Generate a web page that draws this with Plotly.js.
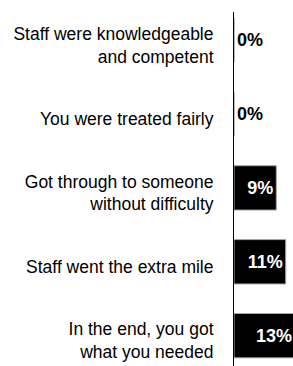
<!DOCTYPE html>
<html>
<head>
<meta charset="utf-8">
<script src="https://cdn.plot.ly/plotly-3.0.1.min.js"></script>
<style>
html,body{margin:0;padding:0;background:#fff;}
#chart{width:293px;height:366px;}
</style>
</head>
<body>
<div id="chart"></div>
<script>
var categories = [
  "Staff were knowledgeable<br>and competent",
  "You were treated fairly",
  "Got through to someone<br>without difficulty",
  "Staff went the extra mile",
  "In the end, you got<br>what you needed"
];
var values = [0, 0, 9, 11, 13];
var valueLabels = values.map(function(v){ return v + "%"; });

var trace = {
  type: "bar",
  orientation: "h",
  x: values,
  y: categories,
  text: valueLabels,
  textposition: values.map(function(v){ return v > 0 ? "inside" : "outside"; }),
  insidetextanchor: "end",
  constraintext: "none",
  cliponaxis: true,
  textfont: {family: "Liberation Sans, Arial, sans-serif", size: 18, weight: "bold"},
  insidetextfont: {family: "Liberation Sans, Arial, sans-serif", size: 18, weight: "bold", color: "#ffffff"},
  outsidetextfont: {family: "Liberation Sans, Arial, sans-serif", size: 18, weight: "bold", color: "#000000"},
  marker: {color: "#000000", line: {color: "#a6a6a6", width: 1}},
  width: 0.6,
  hoverinfo: "none"
};

var layout = {
  width: 293,
  height: 366,
  margin: {l: 234, r: 0, t: 12, b: 0, pad: 0},
  paper_bgcolor: "#ffffff",
  plot_bgcolor: "#ffffff",
  showlegend: false,
  font: {family: "Liberation Sans, Arial, sans-serif", color: "#000000"},
  xaxis: {
    range: [0, 12.55],
    showgrid: false,
    zeroline: false,
    showticklabels: false,
    ticks: "",
    showline: false,
    fixedrange: true
  },
  yaxis: {
    type: "category",
    range: [4.41, -0.38],
    showgrid: false,
    zeroline: false,
    showline: true,
    linecolor: "#000000",
    linewidth: 1,
    ticks: "",
    ticklabelstandoff: 16,
    ticklabelshift: -5,
    tickfont: {family: "Liberation Sans, Arial, sans-serif", size: 17.5, color: "#000000"},
    automargin: false,
    fixedrange: true
  }
};

Plotly.newPlot("chart", [trace], layout, {displayModeBar: false, staticPlot: true});
</script>
</body>
</html>
